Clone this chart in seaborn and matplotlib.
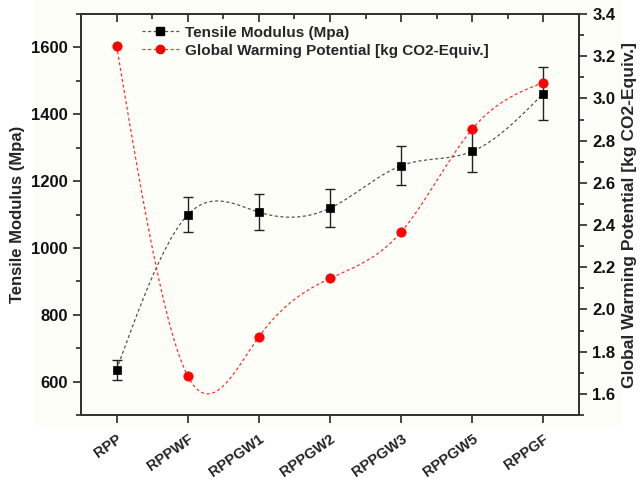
import numpy as np
import pandas as pd
import matplotlib
matplotlib.use("Agg")
import matplotlib.pyplot as plt
import seaborn as sns
from matplotlib.lines import Line2D
from matplotlib.ticker import MultipleLocator

categories = ["RPP", "RPPWF", "RPPGW1", "RPPGW2", "RPPGW3", "RPPGW5", "RPPGF"]
tensile = [636, 1099, 1107, 1119, 1246, 1289, 1462]
tensile_err = [30, 52, 53, 56, 59, 63, 78]
gwp = [3.25, 1.685, 1.87, 2.147, 2.367, 2.855, 3.075]


def natural_spline(x, y, n=300):
    x = np.asarray(x, float)
    y = np.asarray(y, float)
    k = len(x)
    h = np.diff(x)
    A = np.zeros((k, k))
    b = np.zeros(k)
    A[0, 0] = 1
    A[-1, -1] = 1
    for i in range(1, k - 1):
        A[i, i - 1] = h[i - 1]
        A[i, i] = 2 * (h[i - 1] + h[i])
        A[i, i + 1] = h[i]
        b[i] = 3 * ((y[i + 1] - y[i]) / h[i] - (y[i] - y[i - 1]) / h[i - 1])
    c = np.linalg.solve(A, b)
    xs = np.linspace(x[0], x[-1], n)
    ys = np.empty_like(xs)
    for j, xv in enumerate(xs):
        i = min(np.searchsorted(x, xv, side="right") - 1, k - 2)
        dx = xv - x[i]
        bi = (y[i + 1] - y[i]) / h[i] - h[i] * (2 * c[i] + c[i + 1]) / 3
        di = (c[i + 1] - c[i]) / (3 * h[i])
        ys[j] = y[i] + bi * dx + c[i] * dx ** 2 + di * dx ** 3
    return xs, ys


sns.set_theme(style="ticks")
plt.rcParams["font.family"] = ["Liberation Sans", "DejaVu Sans"]
plt.rcParams["font.weight"] = "bold"

pos = np.arange(len(categories))
df = pd.DataFrame({"pos": pos, "cat": categories, "tensile": tensile,
                   "err": tensile_err, "gwp": gwp})

fig = plt.figure(figsize=(6.41, 4.79), dpi=100, facecolor="white")
bg = plt.Rectangle((0.052, 0.108), 0.92, 0.892, transform=fig.transFigure,
                   facecolor="#fefef8", edgecolor="none", zorder=-10)
fig.patches.append(bg)
ax = fig.add_axes([81 / 641, 1 - 415 / 479, (579 - 81) / 641, (415 - 14) / 479])
ax.set_facecolor("#fefef8")
ax2 = ax.twinx()

# Tensile modulus
sx, sy = natural_spline(pos, tensile)
sns.lineplot(x=sx, y=sy, ax=ax, color="#555555", lw=0.9, linestyle=(0, (2.5, 2)),
             zorder=2)
ax.errorbar(df["pos"], df["tensile"], yerr=df["err"], fmt="none", ecolor="#222222",
            elinewidth=1, capsize=3.5, capthick=1, zorder=3)
sns.scatterplot(data=df, x="pos", y="tensile", ax=ax, marker="s", color="black",
                s=40, edgecolor="black", zorder=4)

# GWP
gx, gy = natural_spline(pos, gwp)
sns.lineplot(x=gx, y=gy, ax=ax2, color="#ff3333", lw=0.9, linestyle=(0, (2.5, 2)),
             zorder=2)
sns.scatterplot(data=df, x="pos", y="gwp", ax=ax2, marker="o", color="red",
                s=45, edgecolor="red", zorder=4)

ax.set_xlim(-0.5, 6.5)
ax.set_ylim(500, 1700)
ax2.set_ylim(1.5, 3.4)
ax.yaxis.set_minor_locator(MultipleLocator(100))
ax2.yaxis.set_minor_locator(MultipleLocator(0.1))
gticks = np.arange(1.6, 3.41, 0.2)
ax2.set_yticks(gticks)
ax2.set_yticklabels([f"{v:.1f}" for v in gticks])
ax.set_yticks([600, 800, 1000, 1200, 1400, 1600])

ax.set_xticks(pos)
ax.set_xticklabels(categories, rotation=35, ha="right", rotation_mode="anchor",
                   fontsize=10.5, fontweight="bold", color="#222222")
ax.tick_params(axis="x", which="both", direction="out")
ax.tick_params(axis="x", which="major", length=6, width=1.2, pad=6)
ax.tick_params(axis="x", which="minor", length=0)
ax.tick_params(axis="y", which="major", length=6, width=1.2, labelsize=12)
ax.tick_params(axis="y", which="minor", length=3.5, width=1.2)
ax2.tick_params(axis="y", which="major", length=6, width=1.2, labelsize=12)
ax2.tick_params(axis="y", which="minor", length=3.5, width=1.2)
for lab in ax.get_yticklabels() + ax2.get_yticklabels():
    lab.set_fontweight("bold")
    lab.set_color("#111111")

# top ticks inward
secx = ax.secondary_xaxis("top")
secx.set_xticks(pos)
secx.xaxis.set_minor_locator(MultipleLocator(0.5))
secx.tick_params(which="major", direction="in", length=6, width=1.2, labeltop=False)
secx.tick_params(which="minor", direction="in", length=3.5, width=1.2)
secx.set_xticklabels([])

ax.set_xlabel("")
ax.set_ylabel("Tensile Modulus (Mpa)", fontsize=12, fontweight="bold", labelpad=4)
ax2.set_ylabel("Global Warming Potential [kg CO2-Equiv.]", fontsize=12.5,
               fontweight="bold", labelpad=5)

for a in (ax, ax2):
    for sp in a.spines.values():
        sp.set_linewidth(1.4)
        sp.set_color("#333333")
secx.spines["top"].set_linewidth(1.4)

handles = [
    Line2D([], [], color="#555555", lw=0.9, linestyle=(0, (2.5, 2)), marker="s",
           markersize=6, markerfacecolor="black", markeredgecolor="black"),
    Line2D([], [], color="#ff3333", lw=0.9, linestyle=(0, (2.5, 2)), marker="o",
           markersize=6, markerfacecolor="red", markeredgecolor="red"),
]
ax2.legend(handles, ["Tensile Modulus (Mpa)", "Global Warming Potential [kg CO2-Equiv.]"],
           loc="upper left", bbox_to_anchor=(0.095, 1.005), frameon=False,
           prop={"weight": "bold", "size": 11}, handlelength=2.4,
           labelspacing=0.25, handletextpad=0.4)

fig.savefig("out.png", dpi=100, facecolor="white")
